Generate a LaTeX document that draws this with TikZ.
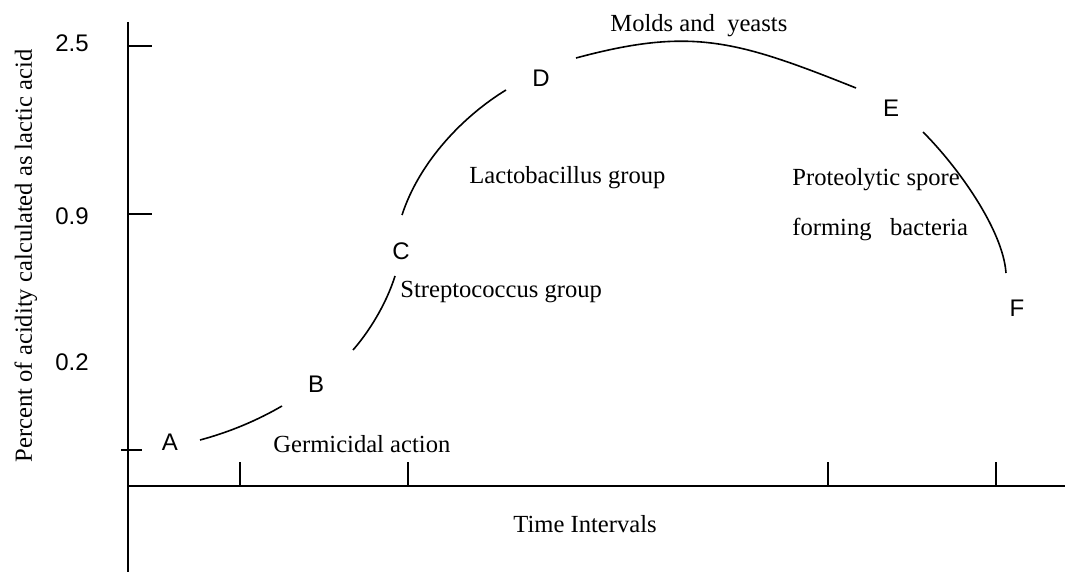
\documentclass[tikz,border=0pt]{standalone}
\usepackage{fontspec}
\setmainfont{Liberation Serif}
\setsansfont{Liberation Sans}
\tikzstyle{axis line}=[draw,line width=1pt]
\tikzstyle{tick}=[draw,line width=1pt]
\tikzstyle{curve}=[draw,line width=0.8pt]
\tikzstyle{point}=[inner sep=0pt,anchor=base,font=\sffamily\fontsize{12}{14}\selectfont]
\tikzstyle{group}=[inner sep=0pt,anchor=base west,font=\fontsize{12.3}{14}\selectfont]

\begin{document}
\begin{tikzpicture}[x=0.5pt,y=-0.5pt]
    \useasboundingbox (0,0) rectangle (1065,572);
    % First the axes and their ticks
    \coordinate (origin) at (128,486);
    \coordinate (ytop) at (128,22);
    \coordinate (ybot) at (128,572);
    \coordinate (xend) at (1065,486);
    \path[axis line] (ytop) -- (ybot);
    \path[axis line] (origin) -- (xend);
    \foreach \y in {46,214}
        \path[tick] (128,\y) -- ++(24,0);
    \path[tick] (121,450) -- (142,450);
    \foreach \x in {240,408,828,996}
        \path[tick] (\x,486) -- ++(0,-24);

    % Values and axis titles
    \foreach \pos/\name/\val in {{(72,52)/v25/2.5}, {(72,225)/v09/0.9}, {(72,370)/v02/0.2}}
        \node[point] (\name) at \pos {\val};
    \node[group,anchor=base,rotate=90] (ylabel) at (32,256) {Percent of acidity calculated as lactic acid};
    \node[group] (xlabel) at (513,532) {Time Intervals};

    % Points on the curve
    \foreach \pos/\name in {{(170,450)/A}, {(316,392)/B}, {(401,260)/C}, {(541,87)/D}, {(891,117)/E}, {(1017,316)/F}}
        \node[point] (\name) at \pos {\name};

    % Groups of organisms
    \node[group] (germ) at (273,452) {Germicidal action};
    \node[group] (strep) at (400,298) {Streptococcus group};
    \node[group] (lacto) at (469,184) {Lactobacillus group};
    \node[group] (molds) at (610,32) {Molds and~~yeasts};
    \node[group] (prot1) at (792,186) {Proteolytic spore};
    \node[group] (prot2) at (792,235) {forming~~~bacteria};

    % Ends of the curve pieces
    \foreach \pos/\name in {{(200,440)/a1}, {(282,406)/b0}, {(353,350)/b1}, {(395,276)/c0}, {(402,215)/c1}, {(506,90)/d0}, {(576,58)/d1}, {(856,88)/e0}, {(923,132)/e1}, {(1006,273)/f0}}
        \path \pos coordinate (\name);

    % Connect them with the curve
    \path[curve] (a1) .. controls (230,432) and (258,420) .. (b0);
    \path[curve] (b1) .. controls (368,333) and (386,305) .. (c0);
    \path[curve] (c1) .. controls (420,160) and (465,115) .. (d0);
    \path[curve] (d1) .. controls (691,27) and (736,40) .. (e0);
    \path[curve] (e1) .. controls (958,167) and (1003,230) .. (f0);
\end{tikzpicture}
\end{document}
